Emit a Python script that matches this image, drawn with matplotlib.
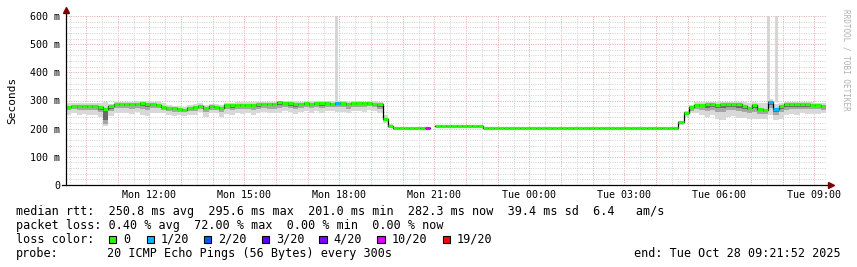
import numpy as np
import pandas as pd
import matplotlib
matplotlib.use('Agg')
import matplotlib.pyplot as plt
import matplotlib.dates as mdates
from matplotlib.patches import Rectangle
from matplotlib.ticker import FuncFormatter, MultipleLocator

plt.rcParams['font.family'] = ['DejaVu Sans Mono']

W, H, DPI = 857, 267, 100

# ---------------- data ----------------
start = pd.Timestamp('2025-10-27 09:21:52')
end = pd.Timestamp('2025-10-28 09:21:52')
step = pd.Timedelta(minutes=10)

nan = np.nan
median_ms = [
    278, 279, 280, 279, 281, 280, 276, 271, 279, 286,
    287, 286, 288, 287, 290, 289, 286, 285, 278, 273,
    272, 270, 266, 274, 277, 280, 273, 279, 278, 273,
    283, 284, 283, 285, 284, 285, 286, 287, 287, 289,
    293, 291, 290, 287, 288, 290, 289, 291, 290, 292,
    289, 291, 290, 289, 291, 290, 290, 291, 289, 286,
    235, 208, 201, 201, 201, 201, 201, 201, 201, nan,
    209, 211, 211, 211, 211, 211, 211, 211, 210, 203,
    201, 201, 201, 201, 201, 201, 201, 201, 201, 201,
    201, 201, 201, 201, 201, 201, 201, 201, 201, 201,
    201, 201, 201, 201, 201, 201, 201, 201, 201, 201,
    201, 201, 201, 201, 201, 201, 222, 257, 276, 284,
    285, 286, 287, 285, 286, 288, 286, 287, 282, 275,
    284, 270, 266, 294, 269, 280, 287, 287, 287, 286,
    286, 284, 283, 282,
]

# lost pings out of 20 per step
loss = [0] * 144
loss[51] = 1
loss[68] = 10
loss[133] = 1
loss[134] = 1

# smoke: spread of the 20 pings above / below the median (ms)
smoke_up = (
    [14, 12, 10, 12, 10, 12, 16, 22, 10, 8,
     8, 10, 8, 10, 8, 9, 10, 12, 14, 12,
     10, 10, 12, 10, 9, 10, 12, 8, 10, 12,
     8, 8, 10, 8, 9, 8, 8, 8, 9, 6,
     5, 7, 8, 10, 8, 6, 8, 6, 8, 6,
     8, 8, 8, 6, 8, 7, 6, 6, 8, 10,
     15, 10]
    + [0] * 54
    + [4, 6, 8, 10, 10, 10, 8, 10, 9, 8, 10, 8, 12, 15, 10, 20, 25, 10,
       20, 12, 8, 9, 8, 10, 8, 9, 8, 8]
)
smoke_down = (
    [30, 25, 30, 28, 32, 30, 35, 60, 35, 30,
     32, 30, 35, 28, 40, 45, 30, 28, 22, 25,
     28, 22, 20, 25, 28, 22, 30, 25, 22, 30,
     30, 35, 28, 32, 30, 35, 30, 28, 32, 35,
     38, 30, 32, 36, 30, 28, 33, 30, 35, 30,
     28, 32, 30, 35, 30, 28, 30, 25, 28, 30,
     15, 5]
    + [0] * 54
    + [8, 15, 22, 30, 35, 45, 40, 50, 55, 45, 40, 50, 45, 40, 50, 35, 30, 45,
       40, 45, 40, 35, 38, 30, 35, 32, 30, 28]
)
mid_down = (
    [12, 10, 14, 12, 15, 12, 18, 55, 18, 12,
     15, 12, 18, 12, 20, 22, 14, 12, 10, 12,
     14, 10, 8, 12, 14, 10, 15, 12, 10, 15,
     14, 18, 12, 16, 14, 18, 15, 12, 16, 18,
     20, 14, 16, 18, 14, 12, 16, 14, 18, 14,
     12, 15, 14, 18, 14, 12, 14, 12, 12, 15,
     8, 3]
    + [0] * 54
    + [4, 8, 12, 15, 18, 22, 20, 25, 28, 22, 20, 25, 22, 20, 25, 18, 15, 22,
       20, 22, 20, 18, 18, 15, 16, 15, 14, 14]
)
dark_down = (
    [6, 5, 7, 6, 8, 6, 9, 40, 9, 6,
     8, 6, 9, 6, 10, 11, 7, 6, 5, 6,
     7, 5, 4, 6, 7, 5, 8, 6, 5, 8,
     7, 9, 6, 8, 7, 9, 8, 6, 8, 9,
     10, 7, 8, 9, 7, 6, 8, 7, 9, 7,
     6, 8, 7, 9, 7, 6, 7, 6, 6, 8,
     4, 2]
    + [0] * 54
    + [2, 4, 6, 8, 9, 11, 10, 12, 14, 11, 10, 12, 11, 10, 12, 9, 8, 11,
       10, 11, 10, 9, 9, 8, 8, 8, 7, 7]
)

# single-ping outliers reaching the top of the graph
spike_times = ['2025-10-27 17:53', '2025-10-28 07:32', '2025-10-28 07:48']
spike_max = [606, 606, 606]
spike_base = [295, 296, 294]

loss_levels = [0, 1, 2, 3, 4, 10, 19]
loss_labels = ['0', '1/20', '2/20', '3/20', '4/20', '10/20', '19/20']
loss_colors = ['#26ff00', '#00b8ff', '#0059ff', '#5e00ff', '#7e00ff', '#dd00ff', '#ff0000']

# ---------------- figure ----------------
fig = plt.figure(figsize=(W / DPI, H / DPI), dpi=DPI)
fig.patch.set_facecolor('white')

def fx(px):
    return px / W

def fy(py):
    return 1 - py / H

ax = fig.add_axes([fx(66), fy(185), 760 / W, 169 / H])
ax.set_facecolor('white')

times = pd.date_range(start, periods=len(median_ms), freq=step)
t = mdates.date2num(times.to_pydatetime())
t_end = mdates.date2num(end.to_pydatetime())
te = np.append(t, t_end)

med = np.array(median_ms, dtype=float)
up = np.array(smoke_up, dtype=float)
dn = np.array(smoke_down, dtype=float)
md = np.array(mid_down, dtype=float)
dk = np.array(dark_down, dtype=float)

def ext(a):
    return np.append(a, a[-1])

# smoke
ax.fill_between(te, ext(med - dn), ext(med + up), step='post',
                color='#d8d8d8', lw=0, zorder=2)
ax.fill_between(te, ext(med - md), ext(med + 3), step='post',
                color='#a6a6a6', lw=0, zorder=2.1)
ax.fill_between(te, ext(med - dk), ext(med + 1), step='post',
                color='#6a6a6a', lw=0, zorder=2.2)

# spikes
st = mdates.date2num(pd.to_datetime(spike_times).to_pydatetime())
ax.vlines(st, spike_base, spike_max, color='#d4d4d4', lw=2.0, zorder=1.9)

# median: black step line + loss coloured segments
ax.step(te, ext(med), where='post', color='black', lw=0.9, zorder=3)
cmap = dict(zip(loss_levels, loss_colors))
seg_colors = [cmap[l] for l in loss]
ok = ~np.isnan(med)
ax.hlines(med[ok], t[ok], te[1:][ok], colors=np.array(seg_colors)[ok],
          lw=2.3, zorder=4)

ax.set_xlim(t[0], t_end)
ax.set_ylim(0, 600)

# grid
ax.xaxis.set_major_locator(mdates.HourLocator(interval=1))
ax.xaxis.set_minor_locator(mdates.MinuteLocator(byminute=[30]))

def xfmt(x, pos):
    d = mdates.num2date(x)
    return d.strftime('%a %H:%M') if d.hour % 3 == 0 else ''

ax.xaxis.set_major_formatter(FuncFormatter(xfmt))
ax.yaxis.set_major_locator(MultipleLocator(100))
ax.yaxis.set_minor_locator(MultipleLocator(20))
ax.yaxis.set_major_formatter(FuncFormatter(lambda v, p: '0' if v == 0 else f'{int(v)} m'))

dots = (0, (1, 1.4))
ax.grid(which='major', color='#e8a8a8', lw=0.7, linestyle=dots, zorder=0)
ax.grid(which='minor', color='#cfcfcf', lw=0.7, linestyle=dots, zorder=0)
ax.set_axisbelow(True)

ax.tick_params(axis='x', which='both', length=0, pad=3.5, labelsize=7.2)
ax.tick_params(axis='y', which='both', length=0, pad=4.3, labelsize=7.2)

for s in ax.spines.values():
    s.set_visible(False)

# axis lines with arrows
ax.plot([0, 0], [0, 1.025], color='black', lw=0.9, transform=ax.transAxes, clip_on=False, zorder=5)
ax.plot([-0.005, 1.004], [0, 0], color='black', lw=0.9, transform=ax.transAxes, clip_on=False, zorder=5)
ax.plot([0], [1.036], marker='^', color='#7a0000', ms=4, transform=ax.transAxes, clip_on=False, zorder=6)
ax.plot([1.0068], [0], marker='>', color='#7a0000', ms=4, transform=ax.transAxes, clip_on=False, zorder=6)

# labels
fig.text(fx(12), fy(100), 'Seconds', rotation=90, ha='center', va='center', fontsize=8)
fig.text(fx(846), fy(60), 'RRDTOOL / TOBI OETIKER', rotation=270, ha='center', va='center',
         fontsize=5.5, color='#b0b0b0')

fs = 8.5
fig.text(fx(16), fy(211.5),
         'median rtt:  250.8 ms avg  295.6 ms max  201.0 ms min  282.3 ms now  39.4 ms sd  6.4   am/s',
         fontsize=fs, va='center')
fig.text(fx(16), fy(225.5),
         'packet loss: 0.40 % avg  72.00 % max  0.00 % min  0.00 % now',
         fontsize=fs, va='center')
fig.text(fx(16), fy(239.5), 'loss color:', fontsize=fs, va='center')
sq_x = [109, 146.7, 204, 261.7, 319.3, 377.3, 442.7]
for x0, lab, col in zip(sq_x, loss_labels, loss_colors):
    fig.patches.append(Rectangle((fx(x0), fy(243)), 7.3 / W, 7.3 / H, transform=fig.transFigure,
                                 facecolor=col, edgecolor='black', lw=0.8))
    fig.text(fx(x0 + 14.3), fy(239.5), lab, fontsize=fs, va='center')
fig.text(fx(16), fy(253.5), 'probe:', fontsize=fs, va='center')
fig.text(fx(107.3), fy(253.5), '20 ICMP Echo Pings (56 Bytes) every 300s', fontsize=fs, va='center')
fig.text(fx(841), fy(253.5), 'end: Tue Oct 28 09:21:52 2025', fontsize=fs, va='center', ha='right')

fig.savefig('out.png', dpi=DPI, facecolor='white')
